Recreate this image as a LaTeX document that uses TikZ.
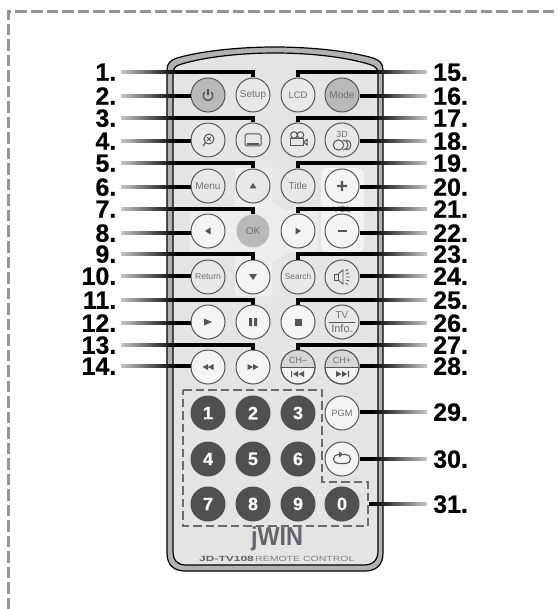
\documentclass[tikz,border=0pt]{standalone}
\usepackage{fontspec}
\usepackage{graphicx}
\setmainfont{Liberation Sans}
\newfontfamily\labfont[BoldFeatures={FakeBold=0.5}]{Liberation Sans}
\usetikzlibrary{calc}
\definecolor{ink}{HTML}{555555}
\definecolor{txt}{HTML}{707070}
\definecolor{bodyc}{HTML}{E4E4E4}
\definecolor{lite}{HTML}{EDEDED}
\definecolor{ringc}{HTML}{B2B2B2}
\definecolor{keyc}{HTML}{B9B9B9}
\definecolor{darkk}{HTML}{505050}
\definecolor{brandc}{HTML}{5E666E}
\tikzset{
  btn/.style={circle,draw=ink,line width=1pt,minimum size=34pt,inner sep=0pt,fill=bodyc!60!lite,text=txt,font=\fontsize{10}{10}\selectfont},
  litebtn/.style={btn,fill=lite!60!white},
  greybtn/.style={btn,fill=keyc},
  numbtn/.style={circle,minimum size=35pt,inner sep=0pt,fill=darkk,text=white,font=\labfont\fontsize{18}{18}\selectfont\bfseries},
  numlabel/.style={font=\labfont\fontsize{25}{25}\selectfont\bfseries,inner sep=0pt,text height=17.5pt,text depth=0pt},
  conn/.style={line width=3.8pt,black,line join=miter},
  icon/.style={draw=ink,line width=1pt},
  iconf/.style={fill=ink},
  dashbox/.style={draw=black!58,line width=2.3pt,dash pattern=on 8.5pt off 4pt},
  frameline/.style={draw=black!42,line width=3pt,dash pattern=on 11.5pt off 4pt},
}
\newcommand\connL[3]{%
  \node[numlabel,anchor=east] (lab#1) at (116.5,#2) {#1.};
  \coordinate (fa#1) at (121,#2);
  \coordinate (fb#1) at (176,#2);
  \shade[left color=black!22,right color=black] ([yshift=1.9pt]fa#1) rectangle ([yshift=-1.9pt]fb#1);
  \draw[conn] (fb#1) #3;}
\newcommand\connR[3]{%
  \node[numlabel,anchor=west] (lab#1) at (433,#2) {#1.};
  \coordinate (fa#1) at (427,#2);
  \coordinate (fb#1) at (372,#2);
  \shade[right color=black!22,left color=black] ([yshift=1.9pt]fb#1) rectangle ([yshift=-1.9pt]fa#1);
  \draw[conn] (fb#1) #3;}
\begin{document}
\begin{tikzpicture}[x=1pt,y=-1pt]
\useasboundingbox (0,0) rectangle (557,609);
\fill[white] (0,0) rectangle (557,609);
% outer frame
\draw[frameline] (8,609) -- (8,12) -- (557,12);
% body
\path[fill=ringc,draw=black,line width=1.2pt]
 (167,70) .. controls (167,63) and (171,60) .. (177,58) .. controls (205,50) and (245,47) .. (275,47)
 .. controls (305,47) and (345,50) .. (373,58) .. controls (379,60) and (383,63) .. (383,70)
 -- (383,553) .. controls (383,565) and (376,571) .. (365,571) -- (185,571) .. controls (174,571) and (167,565) .. (167,553) -- cycle;
\path[fill=bodyc,draw=black,line width=1.2pt]
 (173,73) .. controls (173,68) and (176,66) .. (180,64.5) .. controls (208,56) and (245,53) .. (275,53)
 .. controls (305,53) and (342,56) .. (370,64.5) .. controls (374,66) and (378,68) .. (378,73)
 -- (378,551) .. controls (378,560) and (373,565) .. (364,565) -- (186,565) .. controls (177,565) and (173,560) .. (173,551) -- cycle;
% lighter key zones
\fill[lite] (235,168) -- (272,168) -- (272,202) -- (284,210) -- (318,210) -- (318,252) -- (290,252) -- (272,263) -- (272,296) -- (235,296) -- (235,255) -- (190,255) -- (190,207) -- (235,207) -- cycle;
\fill[lite!70!white,rounded corners=6pt] (321,168) rectangle (364,252);
% buttons
\def\ca{208}\def\cb{253}\def\cc{298}\def\cd{342}
\def\ra{95}\def\rb{140}\def\rc{186}\def\rd{231}\def\re{277}\def\rf{322}\def\rg{367}\def\rh{413}\def\ri{459}\def\rj{504}
\node[greybtn] (power) at (\ca,\ra) {};
\node[btn] (setup) at (\cb,\ra) {Setup};
\node[btn,font=\fontsize{9.5}{10}\selectfont] (lcd) at (\cc,\ra) {LCD};
\node[greybtn] (mode) at (\cd,\ra) {Mode};
\node[btn] (zoomk) at (\ca,\rb) {};
\node[btn] (subt) at (\cb,\rb) {};
\node[btn] (angle) at (\cc,\rb) {};
\node[btn] (threed) at (\cd,\rb) {};
\node[btn] (menu) at (\ca,\rc) {Menu};
\node[btn] (up) at (\cb,\rc) {};
\node[btn] (title) at (\cc,\rc) {Title};
\node[litebtn] (plus) at (\cd,\rc) {};
\node[litebtn] (left) at (\ca,\rd) {};
\node[circle,minimum size=33pt,inner sep=0pt,fill=keyc,text=txt,font=\fontsize{10}{10}\selectfont] (ok) at (\cb,\rd) {OK};
\node[litebtn] (right) at (\cc,\rd) {};
\node[litebtn] (minus) at (\cd,\rd) {};
\node[btn,font=\fontsize{8.6}{10}\selectfont] (return) at (\ca,\re) {Return};
\node[litebtn] (down) at (\cb,\re) {};
\node[btn,font=\fontsize{8.3}{10}\selectfont] (search) at (\cc,\re) {Search};
\node[btn] (mute) at (\cd,\re) {};
\node[litebtn] (play) at (\ca,\rf) {};
\node[litebtn] (pause) at (\cb,\rf) {};
\node[litebtn] (stop) at (\cc,\rf) {};
\node[btn] (tv) at (\cd,\rf) {};
\node[litebtn] (rew) at (\ca,\rg) {};
\node[litebtn] (ffw) at (\cb,\rg) {};
\node[litebtn] (chm) at (\cc,\rg) {};
\node[litebtn] (chp) at (\cd,\rg) {};
\node[litebtn,font=\fontsize{9.2}{10}\selectfont] (pgm) at (\cd,\rh) {PGM};
\node[litebtn] (loop) at (\cd,\ri) {};
\node[numbtn] (k1) at (\ca,\rh) {1};
\node[numbtn] (k2) at (\cb,\rh) {2};
\node[numbtn] (k3) at (\cc,\rh) {3};
\node[numbtn] (k4) at (\ca,\ri) {4};
\node[numbtn] (k5) at (\cb,\ri) {5};
\node[numbtn] (k6) at (\cc,\ri) {6};
\node[numbtn] (k7) at (\ca,\rj) {7};
\node[numbtn] (k8) at (\cb,\rj) {8};
\node[numbtn] (k9) at (\cc,\rj) {9};
\node[numbtn] (k0) at (\cd,\rj) {0};
% icons
\begin{scope}[shift={(power)}]
 \draw[icon,line width=1.4pt] (-3.2,-3) .. controls (-6.5,-0.5) and (-4.5,5.5) .. (0,5.5) .. controls (4.5,5.5) and (6.5,-0.5) .. (3.2,-3);
 \draw[icon,line width=1.5pt] (0,-6) -- (0,0);
\end{scope}
\begin{scope}[shift={(zoomk)}]
 \draw[icon] (1,-1) circle (5);
 \draw[icon,line width=1.2pt] (-2.5,2.5) -- (-5,6);
 \draw[icon,line width=.8pt] (-.8,-2.8) -- (2.8,.8) (2.8,-2.8) -- (-.8,.8);
\end{scope}
\begin{scope}[shift={(subt)}]
 \draw[icon,rounded corners=1.5pt] (-8,-6) rectangle (8,6);
 \draw[icon,line width=1.6pt] (-6,3.8) -- (6,3.8);
\end{scope}
\begin{scope}[shift={(angle)}]
 \draw[icon] (-4,-5) circle (3.3) (2.5,-5) circle (3.3);
 \draw[icon] (-7.5,-1.5) rectangle (5.5,6);
 \draw[icon] (5.5,2) -- (9,-.5) -- (9,5) -- cycle;
\end{scope}
\begin{scope}[shift={(threed)}]
 \node[text=txt,font=\fontsize{9}{9}\selectfont,inner sep=0pt] (lab3d) at (0,-6) {3D};
 \draw[icon] (-3.5,5) circle (5.2);
 \draw[icon] (1,0) arc[start angle=-90,end angle=90,radius=5];
 \draw[icon] (4,0) arc[start angle=-90,end angle=90,radius=5];
\end{scope}
\begin{scope}[shift={(up)}]\fill[ink] (-3.5,2.5) -- (3.5,2.5) -- (0,-3) -- cycle;\end{scope}
\begin{scope}[shift={(down)}]\fill[ink] (-4,-3) -- (4,-3) -- (0,3) -- cycle;\end{scope}
\begin{scope}[shift={(left)}]\fill[ink] (2.5,-3.5) -- (2.5,3.5) -- (-3,0) -- cycle;\end{scope}
\begin{scope}[shift={(right)}]\fill[ink] (-2.5,-3.5) -- (-2.5,3.5) -- (3,0) -- cycle;\end{scope}
\begin{scope}[shift={(plus)}]\fill[ink] (-5,-1.2) rectangle (5,1.2) (-1.2,-5) rectangle (1.2,5);\end{scope}
\begin{scope}[shift={(minus)}]\fill[ink] (-4.5,-.8) rectangle (4.5,.8);\end{scope}
\node[text=txt,font=\fontsize{9}{9}\selectfont,inner sep=0pt] (vol) at (\cd,209) {VOL};
\begin{scope}[shift={(mute)}]
 \draw[icon,line width=.8pt] (-7.5,-3) rectangle (-4,3);
 \draw[icon,line width=.8pt] (-4,-3) -- (1,-7) -- (1,7) -- (-4,3);
 \draw[icon,line width=.8pt] (3.5,-6) -- (6,-7.5) (4,0) -- (8,0) (3.5,6) -- (6,7.5) (4,-3) -- (7,-4) (4,3) -- (7,4);
\end{scope}
\begin{scope}[shift={(play)}]\fill[ink] (-4,-3.5) -- (-4,3.5) -- (4,0) -- cycle;\end{scope}
\begin{scope}[shift={(pause)}]\fill[ink] (-4,-4) rectangle (-1,4) (1,-4) rectangle (4,4);\end{scope}
\begin{scope}[shift={(stop)}]\fill[ink] (-3.5,-3.5) rectangle (3.5,3.5);\end{scope}
\begin{scope}[shift={(tv)}]
 \node[text=txt,font=\fontsize{10}{10}\selectfont,inner sep=0pt] (labtv) at (0,-6.5) {TV};
 \node[text=txt,font=\fontsize{11}{11}\selectfont,inner sep=0pt] (labinfo) at (0,6.5) {Info.};
 \draw[icon] (-13,0) -- (13,0);
\end{scope}
\begin{scope}[shift={(rew)}]\fill[ink] (0,-3) -- (0,3) -- (-5.5,0) -- cycle (5.5,-3) -- (5.5,3) -- (0,0) -- cycle;\end{scope}
\begin{scope}[shift={(ffw)}]\fill[ink] (0,-3) -- (0,3) -- (5.5,0) -- cycle (-5.5,-3) -- (-5.5,3) -- (0,0) -- cycle;\end{scope}
\begin{scope}
 \clip (chm) circle (17);
 \fill[black!16] ($(chm)+(-17,-17)$) rectangle ($(chm)+(17,0)$);
\end{scope}
\begin{scope}
 \clip (chp) circle (17);
 \fill[black!16] ($(chp)+(-17,-17)$) rectangle ($(chp)+(17,0)$);
\end{scope}
\draw[draw=ink,line width=1pt] (chm) circle (17) (chp) circle (17);
\begin{scope}[shift={(chm)}]
 \node[text=txt,font=\fontsize{9}{9}\selectfont,inner sep=0pt] (labchm) at (0,-7) {CH–};
 \draw[icon] (-17,0) -- (17,0);
 \fill[ink] (-7,4) rectangle (-5.8,10) (0,4) -- (0,10) -- (-5,7) -- cycle (6,4) -- (6,10) -- (.5,7) -- cycle;
\end{scope}
\begin{scope}[shift={(chp)}]
 \node[text=txt,font=\fontsize{9}{9}\selectfont,inner sep=0pt] (labchp) at (0,-7) {CH+};
 \draw[icon] (-17,0) -- (17,0);
 \fill[ink] (7,4) rectangle (5.8,10) (0,4) -- (0,10) -- (5,7) -- cycle (-6,4) -- (-6,10) -- (-.5,7) -- cycle;
\end{scope}
\begin{scope}[shift={(loop)}]
 \draw[icon,line width=1.1pt,rounded corners=4.5pt] (-3,-4.5) -- (-8.5,-4.5) -- (-8.5,4.5) -- (8.5,4.5) -- (8.5,-4.5) -- (1,-4.5);
 \fill[ink] (-3,-7.5) -- (-3,-1.5) -- (1,-4.5) -- cycle;
\end{scope}
% dashed grouping line
\draw[dashbox] (183,390) -- (322,390) -- (322,482) -- (368,482) -- (368,526) -- (183,526) -- cycle;
% branding
\node[text=brandc,font=\fontsize{26}{26}\selectfont\bfseries,inner sep=0pt,xscale=.9] (brand) at (277,539) {jWIN};
\node[text=black!62,font=\fontsize{7.5}{8}\selectfont\bfseries,inner sep=0pt,anchor=west] (model) at (199,559) {\scalebox{1.6}[1]{JD-TV108}};
\node[text=black!50,font=\fontsize{7.5}{8}\selectfont,inner sep=0pt,anchor=west] (rc) at (255,559) {\scalebox{1.4}[1]{REMOTE CONTROL}};
% connectors
\connL{1}{72}{-| (setup.north)}
\connL{2}{96}{-- (power.west |- fb2)}
\connL{3}{118}{-| (subt.north)}
\connL{4}{141}{-- (zoomk.west |- fb4)}
\connL{5}{163}{-| (up.north)}
\connL{6}{187}{-- (menu.west |- fb6)}
\connL{7}{209}{-| (ok.north)}
\connL{8}{233}{-- (left.west |- fb8)}
\connL{9}{254}{-| (down.north)}
\connL{10}{276}{-- (return.west |- fb10)}
\connL{11}{300}{-| (pause.north)}
\connL{12}{323}{-- (play.west |- fb12)}
\connL{13}{345}{-| (ffw.north)}
\connL{14}{366}{-- (rew.west |- fb14)}
\connR{15}{72}{-| (lcd.north)}
\connR{16}{96}{-- (mode.east |- fb16)}
\connR{17}{118}{-| (angle.north)}
\connR{18}{141}{-- (threed.east |- fb18)}
\connR{19}{163}{-| (title.north)}
\connR{20}{187}{-- (plus.east |- fb20)}
\connR{21}{209}{-| (right.north)}
\connR{22}{233}{-- (minus.east |- fb22)}
\connR{23}{254}{-| (search.north)}
\connR{24}{276}{-- (mute.east |- fb24)}
\connR{25}{300}{-| (stop.north)}
\connR{26}{323}{-- (tv.east |- fb26)}
\connR{27}{345}{-| (chm.north)}
\connR{28}{366}{-- (chp.east |- fb28)}
\connR{29}{412}{-- (pgm.east |- fb29)}
\connR{30}{459}{-- (loop.east |- fb30)}
\coordinate (boxside) at (369,504);
\connR{31}{504}{-- (boxside)}
\end{tikzpicture}
\end{document}
